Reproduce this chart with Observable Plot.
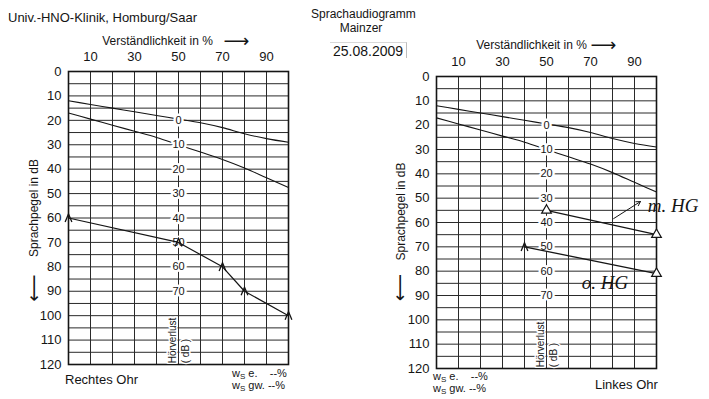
<!DOCTYPE html>
<html><head><meta charset="utf-8">
<script src="https://cdn.jsdelivr.net/npm/d3@7"></script>
<script src="https://cdn.jsdelivr.net/npm/@observablehq/plot@0.6"></script>
<style>
body{margin:0;background:#fff;font-family:"Liberation Sans",Arial,sans-serif;color:#141414;}
#wrap{position:relative;width:709px;height:399px;overflow:hidden;background:#fff;}
#wrap svg{position:absolute;top:0;}
.abs{position:absolute;white-space:nowrap;color:#141414;line-height:1;}
.ws sub{font-size:8px;vertical-align:-2px;line-height:0;}
</style></head><body><div id="wrap"></div>
<script>
// ---- data ----
const pctTicks = [10, 30, 50, 70, 90];
const levelTicks = [0, 10, 20, 30, 40, 50, 60, 70, 80, 90, 100, 110, 120];
const pctGrid = [0, 10, 20, 30, 40, 50, 60, 70, 80, 90, 100];
const levelGrid = [0, 5, 10, 15, 20, 25, 30, 35, 40, 45, 50, 55, 60, 65, 70, 75, 80, 85, 90, 95, 100, 105, 110, 115, 120];
// printed normal curves (numbers "Zahlen" and monosyllables)
const normPct = [0, 10, 20, 30, 40, 50, 60, 70, 80, 90, 100];
const numbersLevel = [12, 13.5, 15, 16.5, 18, 19.5, 21, 23, 25.5, 27.5, 29];
const monoLevel = [17, 19.5, 22, 24.5, 27, 30, 33, 36, 39.5, 43.5, 47.5];
// hearing-loss scale along the 50 % line
const lossValues = [0, 10, 20, 30, 40, 50, 60, 70];
const lossLevels = [20, 30, 40, 50, 60, 70, 80, 90];
// right ear measurement
const rightEarPct = [0, 50, 70, 80, 100];
const rightEarLevel = [60, 70, 80, 90, 100];
// left ear: with hearing aid / without hearing aid
const withAidPct = [50, 100];
const withAidLevel = [55, 65];
const noAidPct = [40, 100];
const noAidLevel = [70, 81];
// handwritten notes
const noteText = ["m. HG", "o. HG"];
const notePct = [96, 66];
const noteLevel = [53, 85];
const pointerPct = [80.5, 92.7];
const pointerLevel = [58.4, 51.4];

// ---- tables ----
const norm = normPct.map((p, i) => ({pct: p, num: numbersLevel[i], mono: monoLevel[i]}));
const loss = lossValues.map((v, i) => ({value: v, level: lossLevels[i]}));
const rightEar = rightEarPct.map((p, i) => ({pct: p, level: rightEarLevel[i]}));
const withAid = withAidPct.map((p, i) => ({pct: p, level: withAidLevel[i]}));
const noAid = noAidPct.map((p, i) => ({pct: p, level: noAidLevel[i]}));
const notes = noteText.map((t, i) => ({text: t, pct: notePct[i], level: noteLevel[i]}));
const pointer = [{x1: pointerPct[0], y1: pointerLevel[0], x2: pointerPct[1], y2: pointerLevel[1]}];

const FONT = "'Liberation Sans', Arial, sans-serif";
const INK = "#151515";
const caret = {draw(ctx, size) {
  const r = Math.sqrt(size / Math.PI);
  ctx.moveTo(-0.75 * r, 0.9 * r); ctx.lineTo(0, -0.9 * r); ctx.lineTo(0.75 * r, 0.9 * r);
}};

function panel({width, ml, mr, mt, mb, yLabelDx, yLabelDy, arrowDx, arrowDy, xLabelDx, xArrowDx, xLabelDy, extra}) {
  return Plot.plot({
    width, height: 399, marginLeft: ml, marginRight: mr, marginTop: mt, marginBottom: mb,
    style: {fontFamily: FONT, fontSize: "13px", color: INK, background: "transparent", overflow: "visible"},
    x: {domain: [0, 100], axis: "top", ticks: pctTicks, tickSize: 0, tickPadding: 11, label: null},
    y: {domain: [0, 120], reverse: true, ticks: levelTicks, tickSize: 0, tickPadding: 7, label: null},
    marks: [
      Plot.ruleX(pctGrid, {stroke: "#2a2a2a", strokeWidth: 1}),
      Plot.ruleY(levelGrid, {stroke: "#2a2a2a", strokeWidth: 1}),
      Plot.frame({stroke: INK, strokeWidth: 1.6}),
      Plot.line(norm, {x: "pct", y: "num", curve: "monotone-x", stroke: INK, strokeWidth: 1.1}),
      Plot.line(norm, {x: "pct", y: "mono", curve: "monotone-x", stroke: INK, strokeWidth: 1.1}),
      Plot.text(loss, {x: () => 50, y: "level", text: d => String(d.value), fontSize: 11,
        fill: INK, stroke: "white", strokeWidth: 5, paintOrder: "stroke"}),
      Plot.text(["Hörverlust\n( dB )"], {x: () => 50, y: () => 119.5, rotate: -90, textAnchor: "start",
        lineAnchor: "middle", lineHeight: 1.25, fontSize: 10, fill: INK, stroke: "white", strokeWidth: 3, paintOrder: "stroke"}),
      Plot.text(["Verständlichkeit in %"], {frameAnchor: "top", textAnchor: "middle", lineAnchor: "middle",
        dx: xLabelDx, dy: xLabelDy, fontSize: 12, fill: INK}),
      Plot.text(["⟶"], {frameAnchor: "top", textAnchor: "middle", lineAnchor: "middle",
        dx: xArrowDx, dy: xLabelDy, fontSize: 18, fontFamily: "'DejaVu Sans', sans-serif", fill: INK}),
      Plot.text(["Sprachpegel in dB"], {frameAnchor: "left", textAnchor: "middle", lineAnchor: "middle",
        rotate: -90, dx: yLabelDx, dy: yLabelDy, fontSize: 12, fill: INK}),
      Plot.text(["⟵"], {frameAnchor: "left", textAnchor: "middle", lineAnchor: "middle",
        rotate: -90, dx: arrowDx, dy: arrowDy, fontSize: 19, fontFamily: "'DejaVu Sans', sans-serif", fill: INK}),
      ...extra
    ]
  });
}

const left = panel({
  width: 300, ml: 68, mr: 12, mt: 71, mb: 35,
  yLabelDx: -34, yLabelDy: -10, arrowDx: -35, arrowDy: 70,
  xLabelDx: -21, xArrowDx: 58, xLabelDy: -30,
  extra: [
    Plot.line(rightEar, {x: "pct", y: "level", stroke: INK, strokeWidth: 1.2}),
    Plot.dot(rightEar, {x: "pct", y: "level", symbol: caret, r: 4.5, fill: "none", stroke: INK, strokeWidth: 1.3})
  ]
});
left.style.left = "0px";

const right = panel({
  width: 349, ml: 76, mr: 53, mt: 76, mb: 31,
  yLabelDx: -35, yLabelDy: -11, arrowDx: -37, arrowDy: 65,
  xLabelDx: -15, xArrowDx: 57, xLabelDy: -31,
  extra: [
    Plot.line(withAid, {x: "pct", y: "level", stroke: INK, strokeWidth: 1.3}),
    Plot.line(noAid, {x: "pct", y: "level", stroke: INK, strokeWidth: 1.3}),
    Plot.dot(withAid, {x: "pct", y: "level", symbol: "triangle", r: 3.6, fill: "white", stroke: INK, strokeWidth: 1.2}),
    Plot.dot(noAid.slice(0, 1), {x: "pct", y: "level", symbol: caret, r: 4.5, fill: "none", stroke: INK, strokeWidth: 1.3}),
    Plot.dot(noAid.slice(1), {x: "pct", y: "level", symbol: "triangle", r: 3.6, fill: "white", stroke: INK, strokeWidth: 1.2}),
    Plot.arrow(pointer, {x1: "x1", y1: "y1", x2: "x2", y2: "y2", stroke: INK, strokeWidth: 1, headLength: 7}),
    Plot.text(notes, {x: "pct", y: "level", text: "text", textAnchor: "start", fontSize: 19,
      fontFamily: "'Liberation Serif', serif", fontStyle: "italic", fill: INK})
  ]
});
right.style.left = "360px";

const wrap = document.getElementById("wrap");
wrap.append(left, right);

function addText(html, css, cls = "abs") {
  const d = document.createElement("div");
  d.className = cls;
  d.innerHTML = html;
  Object.assign(d.style, css);
  wrap.append(d);
}
addText("Univ.-HNO-Klinik, Homburg/Saar", {left: "8px", top: "11px", fontSize: "13px"});
addText("Sprachaudiogramm", {left: "311px", top: "8px", fontSize: "12px", width: "100px", textAlign: "center"});
addText("Mainzer", {left: "311px", top: "22px", fontSize: "12px", width: "100px", textAlign: "center"});
addText("25.08.2009", {left: "330px", top: "42px", fontSize: "14px", padding: "1px 3px 0 3px",
  borderTop: "1px solid #d8d8d8", borderRight: "1px solid #bdbdbd"});
addText("Rechtes Ohr", {left: "65px", top: "373px", fontSize: "13px"});
addText("w<sub>S</sub> e.&nbsp;&nbsp;&nbsp; --%<br>w<sub>S</sub> gw. --%", {left: "232px", top: "367px", fontSize: "11px", lineHeight: "12px"}, "abs ws");
addText("w<sub>S</sub> e.&nbsp;&nbsp;&nbsp; --%<br>w<sub>S</sub> gw. --%", {left: "433px", top: "370px", fontSize: "11px", lineHeight: "12px"}, "abs ws");
addText("Linkes Ohr", {left: "595px", top: "378px", fontSize: "13px"});
</script>
</body></html>
